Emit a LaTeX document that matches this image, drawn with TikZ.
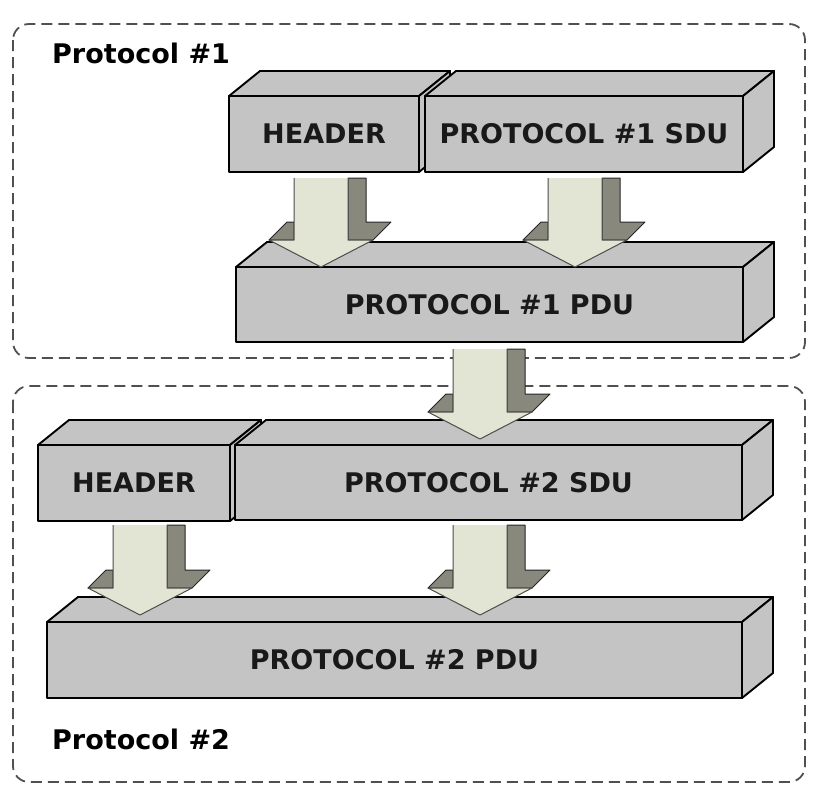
\documentclass[tikz,border=0pt]{standalone}
\usepackage{fontspec}
\setmainfont{DejaVu Sans}
\definecolor{boxgray}{RGB}{196,196,196}
\definecolor{arrowlight}{RGB}{226,228,212}
\definecolor{arrowdark}{RGB}{136,136,124}
\definecolor{dashgray}{RGB}{80,80,80}
\newcommand{\cubebox}[6]{%
  \filldraw[boxface] (#2,#4) -- (#2+31,#4-25) -- (#3+31,#4-25) -- (#3,#4) -- cycle;
  \filldraw[boxface] (#3,#4) -- (#3+31,#4-25) -- (#3+31,#5-25) -- (#3,#5) -- cycle;
  \filldraw[boxface] (#2,#4) rectangle (#3,#5);
  \node[boxtext] (#1) at ({(#2+#3)/2},{(#4+#5)/2}) {#6};
}
\newcommand{\arrowdown}[3]{%
  \filldraw[arrowside] (#1+27,#2) -- (#1+45,#2) -- (#1+45,#3-18) -- (#1+70,#3-18) -- (#1+52,#3) -- (#1+27,#3) -- cycle;
  \filldraw[arrowside] (#1-52,#3) -- (#1-34,#3-18) -- (#1-27,#3-18) -- (#1-27,#3) -- cycle;
  \fill[arrowlight] (#1-27,#2) -- (#1+27,#2) -- (#1+27,#3) -- (#1+52,#3) -- (#1,#3+27) -- (#1-52,#3) -- (#1-27,#3) -- cycle;
  \draw[arrowline] (#1-27,#2) -- (#1-27,#3) -- (#1-52,#3) -- (#1,#3+27) -- (#1+52,#3) -- (#1+27,#3) -- (#1+27,#2);
}
\begin{document}
\begin{tikzpicture}[x=1pt,y=-1pt,
  boxface/.style={fill=boxgray,draw=black,line width=1.9pt,line join=round},
  boxtext/.style={font=\fontsize{27}{32}\selectfont\bfseries,text=black!90},
  labeltext/.style={font=\fontsize{27}{32}\selectfont\bfseries,text=black,anchor=base west,inner sep=0pt},
  arrowside/.style={fill=arrowdark,draw=black!85,line width=1pt,line join=round},
  arrowline/.style={draw=black!70,line width=1pt,line join=round},
  groupbox/.style={draw=dashgray,line width=1.8pt,dash pattern=on 11pt off 6pt,rounded corners=16pt}]
\useasboundingbox (0,0) rectangle (824,804);
\fill[white] (0,0) rectangle (824,804);
% group frames
\draw[groupbox] (13,24) rectangle (805,358);
\draw[groupbox] (13,386) rectangle (805,782);
\node[labeltext] (lab1) at (52,63) {Protocol \#1};
\node[labeltext] (lab2) at (52,749) {Protocol \#2};
% boxes
\cubebox{h1}{229}{419}{96}{172}{HEADER}
\cubebox{s1}{425}{743}{96}{172}{PROTOCOL \#1 SDU}
\cubebox{p1}{236}{743}{267}{342}{PROTOCOL \#1 PDU}
\cubebox{h2}{38}{230}{445}{521}{HEADER}
\cubebox{s2}{235}{742}{445}{520}{PROTOCOL \#2 SDU}
\cubebox{p2}{47}{742}{622}{698}{PROTOCOL \#2 PDU}
% arrows
\arrowdown{321}{178}{240}
\arrowdown{575}{178}{240}
\arrowdown{480}{349}{412}
\arrowdown{140}{525}{588}
\arrowdown{480}{525}{588}
\end{tikzpicture}
\end{document}
